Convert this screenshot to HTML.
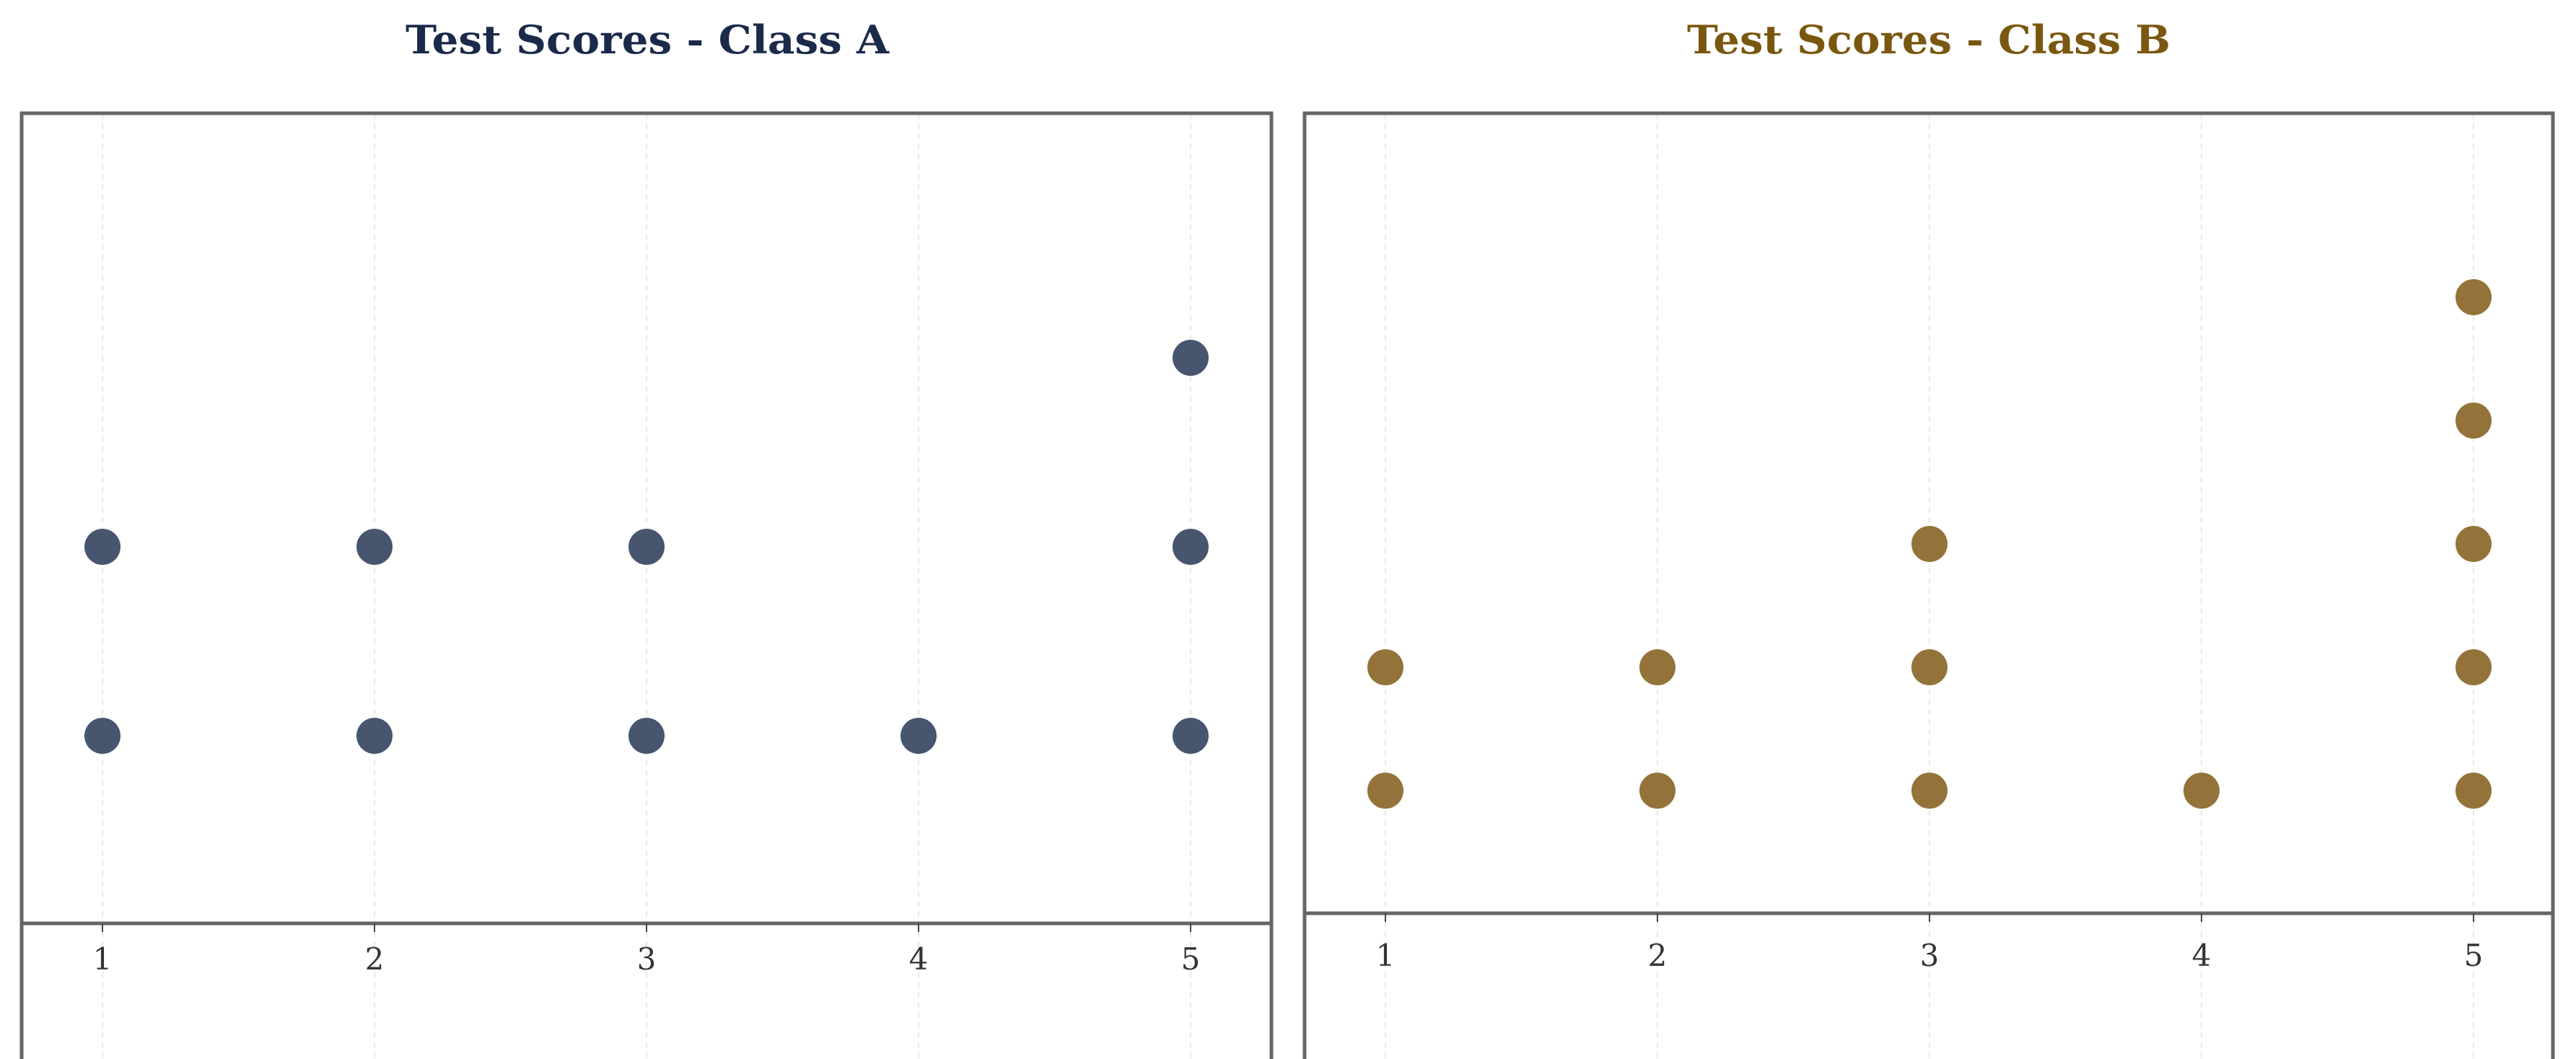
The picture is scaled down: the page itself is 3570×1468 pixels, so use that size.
<!DOCTYPE html>
<html><head><meta charset="utf-8"><style>
html,body{margin:0;padding:0;background:#fff;overflow:hidden;}
svg{display:block;font-family:"DejaVu Serif","Liberation Serif",serif;}
</style></head><body>
<svg id="c" width="3570" height="1468" viewBox="0 0 3570 1468"></svg>
<script>
const categories = [1, 2, 3, 4, 5];
const countsA = [2, 2, 2, 1, 3];
const countsB = [2, 2, 3, 1, 5];
const titles = ["Test Scores - Class A", "Test Scores - Class B"];

const NS = "http://www.w3.org/2000/svg";
const svg = document.getElementById("c");
function mk(tag, attrs, parent) {
  const e = document.createElementNS(NS, tag);
  for (const k in attrs) e.setAttribute(k, attrs[k]);
  (parent || svg).appendChild(e);
  return e;
}
const panels = [
  {counts: countsA, title: titles[0], name: "class-a", L: 30, R: 1762, T: 157, axisY: 1280,
   x1: 142, x5: 1650, y1: 1020, step: 262, dot: "#48556f", tcol: "#1b2a4a", labelY: 1333, titleX: 897},
  {counts: countsB, title: titles[1], name: "class-b", L: 1808, R: 3538, T: 157, axisY: 1266,
   x1: 1920, x5: 3428, y1: 1096, step: 171, dot: "#94733a", tcol: "#7a5710", labelY: 1328, titleX: 2673}
];
panels.forEach(p => {
  const g = mk("g", {});
  
  
  const xs = v => p.x1 + (v - categories[0]) * (p.x5 - p.x1) / (categories[categories.length - 1] - categories[0]);
  const ys = k => p.y1 - (k - 1) * p.step;
  categories.forEach(c => {
    const l = mk("line", {x1: xs(c), x2: xs(c), y1: p.T, y2: 1468, stroke: "#e8e8e8", "stroke-width": 2, "stroke-dasharray": "8,6"}, g);
    
    
  });
  const fr = mk("path", {d: `M${p.L},1468 L${p.L},${p.T} L${p.R},${p.T} L${p.R},1468`, fill: "none", stroke: "#666", "stroke-width": 5}, g);
  
  
  const ax = mk("line", {x1: p.L, x2: p.R, y1: p.axisY, y2: p.axisY, stroke: "#666", "stroke-width": 5}, g);
  
  
  categories.forEach(c => {
    const t = mk("line", {x1: xs(c), x2: xs(c), y1: p.axisY, y2: p.axisY + 12, stroke: "#444", "stroke-width": 2}, g);
    
    
    const tx = mk("text", {x: xs(c), y: p.labelY, "text-anchor": "middle", "dominant-baseline": "middle", "font-size": 42, fill: "#333"}, g);
    tx.textContent = c;
    
    
  });
  categories.forEach((c, i) => {
    for (let k = 1; k <= p.counts[i]; k++) {
      const d = mk("circle", {cx: xs(c), cy: ys(k), r: 25, fill: p.dot}, g);
      
      
    }
  });
  const tt = mk("text", {x: p.titleX, y: 60, "text-anchor": "middle", "dominant-baseline": "middle", "font-size": 54, "font-weight": "bold", fill: p.tcol, textLength: 670, lengthAdjust: "spacingAndGlyphs"}, g);
  tt.textContent = p.title;
  
  
});
</script>
</body></html>
